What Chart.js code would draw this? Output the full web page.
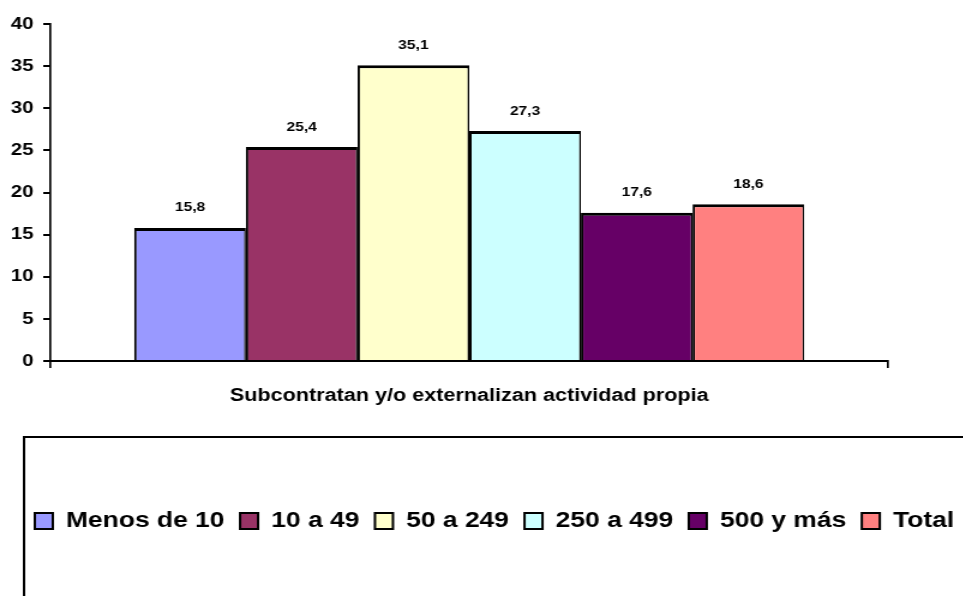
<!DOCTYPE html>
<html>
<head>
<meta charset="utf-8">
<script src="https://cdn.jsdelivr.net/npm/chart.js@4"></script>
<style>
  html, body { margin: 0; padding: 0; overflow: hidden; background: #fff; }
  #wrap { width: 900px; height: 596px; transform: scaleX(1.2); transform-origin: 0 0; }
</style>
</head>
<body>
<div id="wrap"><canvas id="myBarChart" width="900" height="596"></canvas></div>
<script>
// categories and series
const categories = ['Subcontratan y/o externalizan actividad propia'];
const seriesNames = ['Menos de 10', '10 a 49', '50 a 249', '250 a 499', '500 y más', 'Total'];
const seriesValues = [15.8, 25.4, 35.1, 27.3, 17.6, 18.6];
const seriesColors = ['#9999FF', '#993366', '#FFFFCC', '#CCFFFF', '#660066', '#FF8080'];
const yTicks = [0, 5, 10, 15, 20, 25, 30, 35, 40];

document.addEventListener("DOMContentLoaded", function() {
    const ctx = document.getElementById('myBarChart').getContext('2d');
    const fontFamily = 'Arial, "Liberation Sans", sans-serif';

    // value labels above each bar, comma as decimal mark
    const valueLabels = {
        id: 'valueLabels',
        afterDatasetsDraw(chart) {
            const c = chart.ctx;
            c.save();
            c.font = 'bold 13px ' + fontFamily;
            c.fillStyle = '#000';
            c.textAlign = 'center';
            c.textBaseline = 'middle';
            chart.data.datasets.forEach((ds, i) => {
                chart.getDatasetMeta(i).data.forEach((bar, j) => {
                    c.fillText(ds.data[j].toFixed(1).replace('.', ','), bar.x, bar.y - 20);
                });
            });
            c.restore();
        }
    };

    // frame round the legend (runs off the right and bottom edge),
    // and push the legend row a little to the right
    const legendFrame = {
        id: 'legendFrame',
        afterLayout(chart) {
            chart.legend.left += 8;
        },
        afterDraw(chart) {
            const c = chart.ctx;
            c.save();
            c.strokeStyle = '#000';
            c.lineWidth = 2;
            c.strokeRect(20, 437, chart.width + 50, 300);
            c.restore();
        }
    };

    const datasets = seriesNames.map((name, i) => ({
        label: name,
        data: [seriesValues[i]],
        backgroundColor: seriesColors[i],
        borderColor: '#000',
        borderWidth: { top: 3, left: 2, right: 1.5, bottom: 0 },
        borderSkipped: false,
        categoryPercentage: 0.8,
        barPercentage: 1.0
    }));

    new Chart(ctx, {
        type: 'bar',
        data: { labels: categories, datasets: datasets },
        options: {
            responsive: false,
            animation: false,
            layout: { padding: { top: 24, left: 8, right: 9, bottom: 54 } },
            plugins: {
                tooltip: { enabled: false },
                legend: {
                    position: 'bottom',
                    align: 'start',
                    labels: {
                        color: '#000',
                        font: { family: fontFamily, size: 22, weight: 'bold' },
                        boxWidth: 15,
                        boxHeight: 16,
                        padding: 13,
                        generateLabels: chart => Chart.defaults.plugins.legend.labels.generateLabels(chart)
                            .map(item => Object.assign(item, { lineWidth: 2 }))
                    }
                }
            },
            scales: {
                x: {
                    grid: { offset: true, drawOnChartArea: false, tickLength: 7, color: '#000', lineWidth: 1.7 },
                    border: { color: '#000', width: 2 },
                    ticks: { color: '#000', padding: 17, font: { family: fontFamily, size: 18, weight: 'bold' } },
                    afterFit: axis => { axis.height = 136; }
                },
                y: {
                    min: 0,
                    max: 40,
                    afterBuildTicks: axis => { axis.ticks = yTicks.map(v => ({ value: v })); },
                    grid: { drawOnChartArea: false, tickLength: 6, color: '#000', lineWidth: 2 },
                    border: { color: '#000', width: 1.7 },
                    ticks: { color: '#000', padding: 8, font: { family: fontFamily, size: 17, weight: 'bold' } },
                    afterFit: axis => { axis.width = 34; }
                },
                // empty right-hand axis, only keeps the plot narrower than the legend row
                yRight: {
                    type: 'linear',
                    position: 'right',
                    grid: { display: false },
                    border: { display: false },
                    ticks: { display: false },
                    afterFit: axis => { axis.width = 151; }
                }
            }
        },
        plugins: [valueLabels, legendFrame]
    });
});
</script>
</body>
</html>
